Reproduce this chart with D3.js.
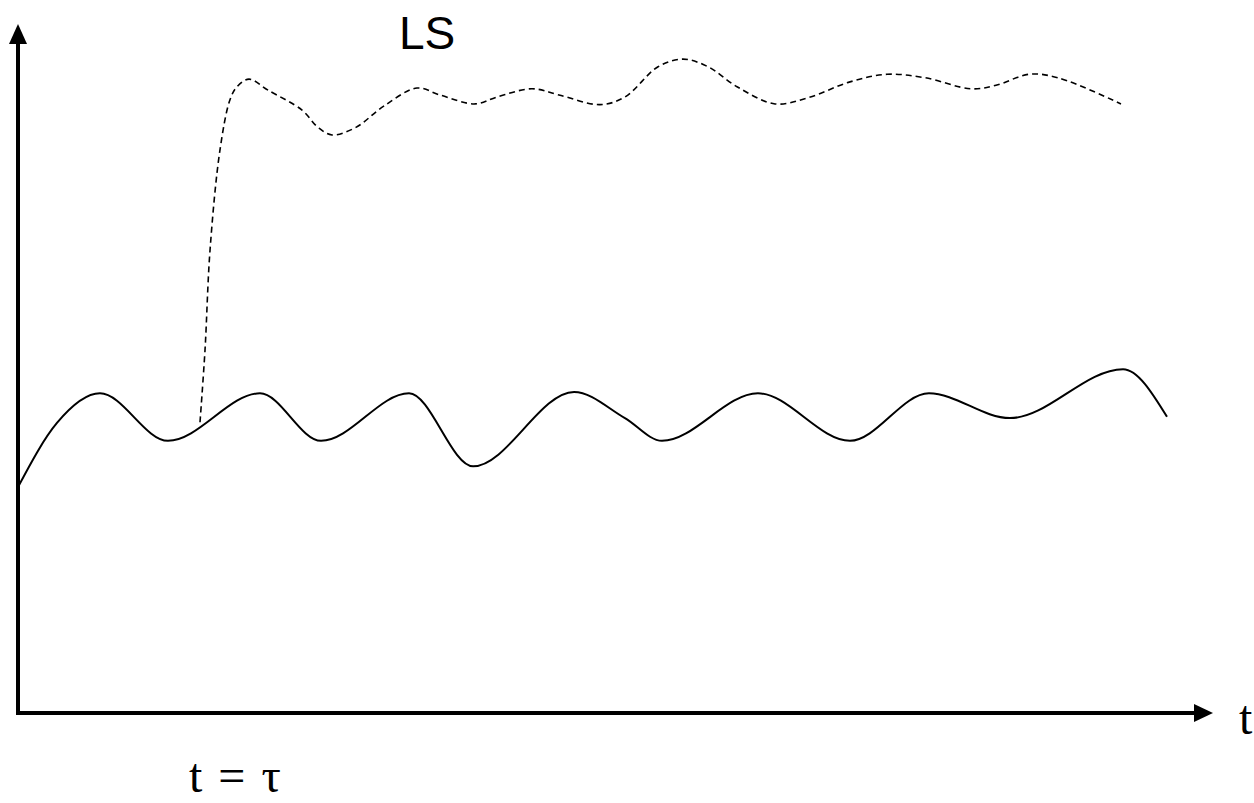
<!DOCTYPE html>
<html>
<head>
<meta charset="utf-8">
<script src="https://cdn.jsdelivr.net/npm/d3@7"></script>
<style>
  body { margin: 0; background: #fff; }
</style>
</head>
<body>
<div id="chart"></div>
<script>
// solid line (base signal), peaks and troughs
var baseT = [0, 3.26, 6.86, 12.55, 20.25, 25.36, 32.72, 38.08, 46.53, 50.79, 53.89,
  61.92, 69.62, 76.23, 83.01, 92.47, 96.15]
var baseV = [32.8, 42.1, 46.4, 39.5, 46.4, 39.5, 46.4, 35.8, 46.6, 42.8, 39.5,
  46.4, 39.5, 46.4, 42.8, 49.9, 43.0]

// dashed line (LS)
var lsT = [15.23, 15.65, 16.07, 16.9, 17.74, 18.33, 19.33, 20.92, 23.77, 25.1, 26.28, 28.28, 30.54, 33.39,
  35.31, 38.24, 40.08, 43.01, 45.27, 48.7, 50.79, 53.56, 55.65, 57.74, 60.17, 63.35, 66.11, 69.62,
  72.72, 75.9, 79.75, 81.84, 84.6, 87.03, 92.3]
var lsV = [42.2, 52.7, 67.2, 81.7, 89.0, 90.9, 92.0, 90.4, 87.5, 85.0, 83.9, 85.0, 88.0, 90.7,
  89.7, 88.4, 89.4, 90.6, 89.7, 88.3, 89.4, 93.8, 94.9, 93.8, 90.9, 88.4, 89.3, 91.6,
  92.7, 92.2, 90.6, 91.1, 92.7, 92.2, 88.4]

var seriesLabel = "LS"
var xAxisLabel = "t"
var markLabel = "t = \u03c4"

var width = 1254, height = 803

var svg = d3.select("#chart")
  .append("svg")
    .attr("width", width)
    .attr("height", height)

var x = d3.scaleLinear().domain([0, 100]).range([18, 1213])
var y = d3.scaleLinear().domain([0, 100]).range([713, 24])

// axes with arrow heads
svg.append("line")
  .attr("x1", x(0)).attr("y1", y(0))
  .attr("x2", x(100) - 16).attr("y2", y(0))
  .attr("stroke", "black").attr("stroke-width", 4)
svg.append("line")
  .attr("x1", x(0)).attr("y1", y(0) + 2)
  .attr("x2", x(0)).attr("y2", y(100) + 16)
  .attr("stroke", "black").attr("stroke-width", 4)

svg.append("path")
  .attr("d", "M" + x(100) + "," + y(0) + "L" + (x(100) - 19) + "," + (y(0) - 9) + "L" + (x(100) - 19) + "," + (y(0) + 9) + "Z")
  .attr("fill", "black")
svg.append("path")
  .attr("d", "M" + x(0) + "," + y(100) + "L" + (x(0) - 9) + "," + (y(100) + 20) + "L" + (x(0) + 9) + "," + (y(100) + 20) + "Z")
  .attr("fill", "black")

var smooth = d3.line()
  .x(function(d) { return x(d[0]) })
  .y(function(d) { return y(d[1]) })
  .curve(d3.curveMonotoneX)

var line = d3.line()
  .x(function(d) { return x(d[0]) })
  .y(function(d) { return y(d[1]) })
  .curve(d3.curveCatmullRom.alpha(0.5))

svg.append("path")
  .datum(d3.zip(baseT, baseV))
  .attr("d", smooth)
  .attr("fill", "none")
  .attr("stroke", "black")
  .attr("stroke-width", 2)

svg.append("path")
  .datum(d3.zip(lsT, lsV))
  .attr("d", line)
  .attr("fill", "none")
  .attr("stroke", "black")
  .attr("stroke-width", 1.6)
  .attr("stroke-dasharray", "6,4")

// labels
svg.append("text")
  .attr("x", 399).attr("y", 49)
  .attr("font-family", "Liberation Sans, Arial, sans-serif")
  .attr("font-size", 46)
  .text(seriesLabel)

svg.append("text")
  .attr("x", 1239).attr("y", 734)
  .attr("font-family", "Liberation Serif, Times New Roman, serif")
  .attr("font-size", 48)
  .text(xAxisLabel)

svg.append("text")
  .attr("x", 189).attr("y", 792)
  .attr("font-family", "Liberation Serif, Times New Roman, serif")
  .attr("font-size", 48)
  .attr("word-spacing", 4)
  .text(markLabel)
</script>
</body>
</html>
